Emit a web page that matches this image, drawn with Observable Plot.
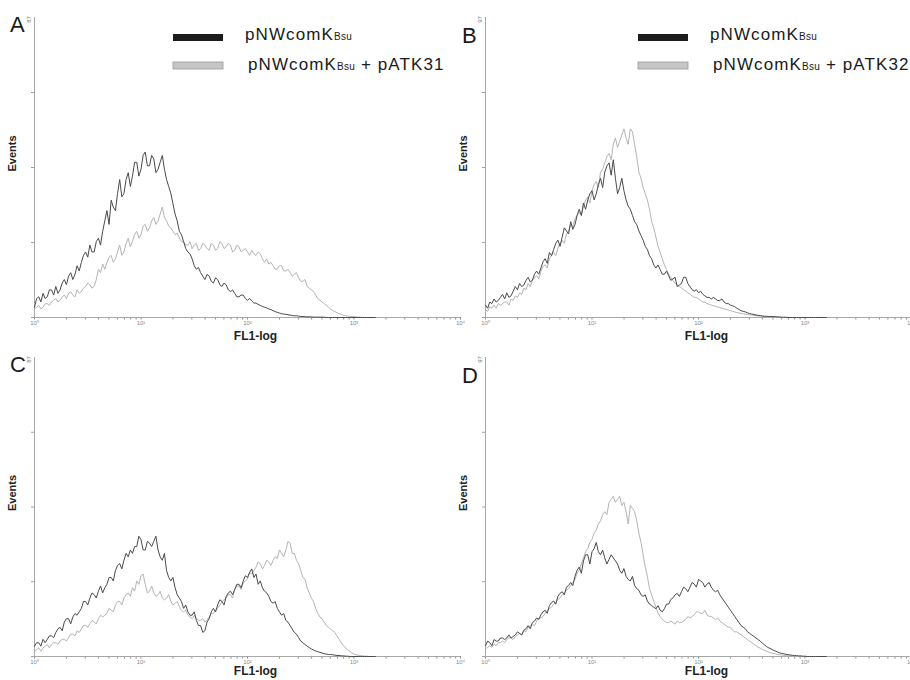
<!DOCTYPE html>
<html><head><meta charset="utf-8">
<script src="https://cdn.jsdelivr.net/npm/d3@7"></script>
<script src="https://cdn.jsdelivr.net/npm/@observablehq/plot@0.6"></script>
<style>
body{margin:0;background:#fff;}
#root{position:relative;width:910px;height:680px;overflow:hidden;font-family:"Liberation Sans",Arial,sans-serif;background:#fff;}
#root > svg{position:absolute;}
</style></head><body><div id="root"></div>
<script>
// channel positions in decades (log10 of FL1), bin width 0.02 decade
const logChannels = d3.range(0, 161).map(i => +(i * 0.02).toFixed(2));
const panelLetters = ["A", "B", "C", "D"];
const panelMax = [87, 97, 87, 97];
const legendBase = "pNWcomK";
const legendSub = "Bsu";
const legendPlasmids = ["pATK31", "pATK32"];
const xMajor = [1, 10, 100, 1000, 10000];
const xTickLabels = ["10\u2070", "10\u00b9", "10\u00b2", "10\u00b3", "10\u2074"];
const xTitle = "FL1-log";
const yTitle = "Events";

// Panel A
const aBlack = [3,5.5,6,4.5,7,5.5,6,8,8,6.5, 9,7,8,10,11,9.5,12,13,11,12.5, 15,13.5,16,18,19,17.5,21,19,19,22,
  23,21,25,28,31,27,34,32,31,36, 40,35,36,40,42,38,41,45,45,41, 43,47,48,44,44,47,46,42,43,45,
  47,43,40,38,36,33,30,28,25,24, 22,20,19,18.5,17,15,14,14.5,13,12, 11,12.5,12,10.5,10,11.5,11,9.5,9,10,
  9.5,8,7.5,8,7,6,6,6.5,6.5,5.5, 5,5.5,4.8,4.2,4.2,3.8,3.5,3.2,3,2.8, 2.5,2.3,2,1.7,1.5,1.3,1.1,1,0.9,0.8,
  0.7,0.6,0.5,0.5,0.4,0.3,0.3,0.2,0.2,0.2, 0.2,0.1,0.1,0.1,0.1,0.1,0.1,0,0,0, 0,0,0,0,0,0,0,0,0,0,
  0,0,0,0,0,0,0,0,0,0, 0];
const aGray = [2.5,3,3.5,2.5,3,4,4,3.5,4.5,5, 5.5,4.5,5,6,6.5,5.5,7,7.5,6.5,6, 8,7,7.5,8.5,9,10,9.5,8.5,9,11,
  14,13,15.5,14,16,17.5,18,16,17,19, 21,18,19,21.5,23,20.5,22,24,25,23, 24,26.5,27,25,26,28,29,27,28,30,
  32,29,28,26.5,26,25,24,24.5,23,22, 22,21,21,22,20,21,21.5,19.5,20,21.5, 21,20,19.5,21.5,21,19.5,20,22,21.5,20,
  20.5,21.5,21,19,19.5,21,20.5,19,19.5,20, 19,18,19.5,18.5,18,19,18.5,17,16,17, 15.5,16,15,14,14,15,15,13.5,13.5,14,
  13,12,12.5,13,11.5,10.5,10.5,11,9,8.5, 8,7.5,6.5,5.5,5,4.5,4,3.5,3,2.5, 2,1.7,1.4,1.1,0.9,0.7,0.5,0.4,0.3,0.3,
  0.2,0.2,0.1,0.1,0,0,0,0,0,0, 0];
// Panel B
const bBlack = [4,3,5,4.5,6,5,5.5,6.5,7.5,6, 8,6.5,7,8.5,10,9,11,10,10.5,12, 13,11.5,12,14,15,14,16,18,19,17.5,
  21,20,22,24,25,23,26,29,28,27, 31,28.5,30,33,35,33,37,35,38,40, 41,38,40,43,45,42,47,49,50,46,
  51,45,40,42,45,41,38,36,35,33, 31,30,28,26.5,25,23,22,20,19,17, 16,17,15.5,14,14,15,13.5,12,12.5,13,
  10,10.5,11,13,13,11,10,9,8.5,9, 8,8.5,7.5,7,6.5,6.5,6,6.5,6,5.5, 5.5,6,5,4.5,4.5,4,3.8,3.5,3,2.6,
  2.2,2,1.8,1.5,1.3,1.1,1,0.8,0.7,0.6, 0.5,0.4,0.4,0.3,0.3,0.3,0.3,0.2,0.2,0.1, 0.1,0.1,0,0,0,0,0,0,0,0,
  0,0,0,0,0,0,0,0,0,0, 0];
const bGray = [2.5,2,3.5,3,4,3,4.5,4,4.5,5, 5,4,6,5.5,7,6.5,8,7.5,9.5,9, 11,10,12,13,13.5,12.5,15,16.5,17,16,
  19,20,21,20,22.5,24,25,24,27,28, 30,29,32,33,34,33,36,38,39,37, 41,43,44,42,47,48,50,52,53,51,
  56,58,55,57,59,61,58,56,61,60, 56,52,47,45,42,40,38,35,31,29, 26,23,21,19,17,15.5,14,13,12,11,
  10.5,10,9.5,9,8.5,8,7.5,7,6.5,6.5, 6,5.5,5,5,4.5,4.3,4,3.8,3.6,3.4, 3.2,3,2.8,2.6,2.4,2.2,2,1.8,1.6,1.5,
  1.3,1.2,1.1,1,0.9,0.8,0.7,0.6,0.5,0.5, 0.4,0.3,0.3,0.2,0.2,0.2,0.1,0.1,0,0, 0,0,0,0,0,0,0,0,0,0,
  0,0,0,0,0,0,0,0,0,0, 0];
// Panel C
const cBlack = [3,4,4,3,5,4,5,6,6,5.5, 7,8,8.5,7.5,10,11,11,9.5,11.5,12.5, 12,13,14,16,16,15,17,18.5,18,17,
  19,20.5,18.5,20,21,23,23,22,25,26.5, 27,25.5,28,30,29,31,30,32,32,35, 34,31,31,33.5,33,32,33.5,35,31,29,
  28,30,25,23,22,23,20,18,17,16, 14,15,13,12,12,13,10.5,9,9,7, 7.5,10,11,13,14,13,15,16.5,16,15,
  17.5,18.5,19,18,19.5,21,21,20,22,23.5, 23,24.5,25.5,23,24,21,22,20,19,18.5, 17.5,16,15.5,16,14,13,12,12.5,10.5,10,
  9,8,7,6.5,5.5,4.5,4,3.5,3,2.6, 2.2,1.9,1.6,1.4,1.2,1,0.8,0.7,0.6,0.6, 0.5,0.4,0.3,0.3,0.2,0.2,0.1,0.1,0,0,
  0,0,0,0,0,0,0,0,0,0, 0];
const cGray = [1.5,2,2.5,1.5,2.5,3,3.5,2.5,3.5,4, 4,3.5,4.5,5,5,4.5,5.5,6.5,6.5,6, 7.5,7,8,9,9,8.5,9.5,10.5,10,9.5,
  11,12,11.5,12,12.5,14,13.5,13,15,16, 16,15,17,18,18.5,17.5,20,19,22,21, 23.5,24,21,18.5,19,20.5,18.5,17.5,18,19,
  17,16.5,17,18,16,15,15.5,16,14.5,13.5, 13,13.5,12,11.5,11,12,11,10.5,10.5,11, 10,10.5,11.5,12.5,12.5,13.5,14,15,16,16.5,
  17,18,18,17,19.5,20.5,20.5,19.5,21.5,22, 22.5,24.5,24,25,26,27.5,27,25.5,26.5,28, 27.5,26.5,28,29,28.5,31,30,29,31,33.5,
  33,30,30,28,27,25,23,22.5,20,18.5, 17,16,14,12.5,11.5,11,10,9,8.5,8, 7.5,7,6,5,4,3.2,2.5,2,1.5,1,
  0.7,0.5,0.4,0.3,0.2,0.1,0.1,0,0,0, 0];
// Panel D
const dBlack = [3.5,5,4.5,3.5,5.5,5,5,6,6,5.5, 6,7,6,6.5,7,8,7.5,7,8.5,9, 10,9,11,11.5,12.5,12,13.5,14.5,15,14,
  16.5,17.5,18,17,19.5,20.5,21,20,22.5,23, 24,23,26,28,29,27,31,33,33,30, 34,35,37,34,33,34.5,32,30,31.5,33,
  32,31,30,28,27,28.5,26,25,24.5,26, 23,22,21.5,20,19.5,20,18,17,16.5,16, 15.5,16.5,15,14.5,15.5,17,17,18.5,19,20,
  20.5,19.5,21,22.5,22,21,22.5,24,23.5,22.5, 25,24.5,24,22.5,23.5,24,22.5,21.5,21,21.5, 20,19,18,17,16,15,14,13,12,11,
  10,9.5,9,8,7.5,7,6.5,6,5.5,5, 4.3,3.8,3.2,2.8,2.5,2.1,1.8,1.5,1.2,1, 0.9,0.7,0.6,0.5,0.4,0.3,0.3,0.2,0.2,0.1,
  0.1,0,0,0,0,0,0,0,0,0, 0];
const dGray = [2.5,3,3.5,3,4,3.5,4.5,4.5,5,4.5, 5.5,6,6,5.5,6.5,7,7.5,7,8.5,8, 9.5,10,10.5,10,11.5,12.5,12.5,13,14,15,
  15.5,16,17,17.5,18.5,19,20,20.5,21.5,22, 23,24,25,27,28,30,32,34,35,37, 38,40,41,43,44,46,47,46,50,51,
  52,50,51,52,49,50,47,43,49,48, 47,44,40,37,33,29,26,22,20,18, 16,14,13,12,11.5,11,11,11.5,11,10.5,
  11.5,11,11,11.5,12,13,12.5,13,13.5,14.5, 14.5,14,14,15,13.5,13,13,12.5,12,12.5, 11.5,11,10.5,10,9.5,9.5,8.5,8,8,7.5,
  7,6.5,6,5.5,5,4.5,4,3.5,3,2.7, 2.3,2,1.7,1.4,1.2,1,0.9,0.7,0.6,0.5, 0.4,0.3,0.2,0.2,0.1,0.1,0,0,0,0,
  0,0,0,0,0,0,0,0,0,0, 0];

const panelSeries = [[aBlack, aGray], [bBlack, bGray], [cBlack, cGray], [dBlack, dGray]];
const xTicks = d3.scaleLog().domain([1, 10000]).ticks();
const fmtX = d => { const k = xMajor.indexOf(d); return k >= 0 ? xTickLabels[k] : ""; };

const root = document.getElementById("root");
const layout = [
  {left: 0, top: 0, height: 350, mb: 33, labelDy: 19},
  {left: 451, top: 0, height: 350, mb: 33, labelDy: 19},
  {left: 0, top: 340, height: 340, mb: 24, labelDy: 15},
  {left: 451, top: 340, height: 340, mb: 24, labelDy: 15}
];

panelSeries.forEach(([blk, gry], idx) => {
  const L = layout[idx];
  const max = panelMax[idx];
  const rows = logChannels.map((e, i) => ({fl: Math.pow(10, e), black: blk[i], gray: gry[i]}));
  const chart = Plot.plot({
    width: 470, height: L.height,
    marginLeft: 34, marginRight: 10, marginTop: 17, marginBottom: L.mb,
    x: {type: "log", domain: [1, 10000]},
    y: {domain: [0, max]},
    style: {background: "transparent", fontFamily: "Liberation Sans, Arial, sans-serif", overflow: "visible"},
    marks: [
      Plot.axisX({ticks: xTicks, tickFormat: fmtX, tickSize: 2.5, tickPadding: 0.5, fontSize: 6, color: "#8a8a8a", label: null}),
      Plot.axisY({ticks: [0, max / 4, max / 2, 3 * max / 4], tickFormat: () => "", tickSize: 3, color: "#a0a0a0", label: null}),
      Plot.ruleY([0], {stroke: "#a8a8a8"}),
      Plot.ruleX([1], {stroke: "#a8a8a8"}),
      Plot.line(rows, {x: "fl", y: "gray", stroke: "#b4b4b4", strokeWidth: 1}),
      Plot.line(rows, {x: "fl", y: "black", stroke: "#4a4a4a", strokeWidth: 1}),
      Plot.text([max], {x: () => 1, y: d => d, text: d => String(d), rotate: -90, dx: -5, dy: 2, fontSize: 6, fill: "#777"}),
      Plot.text([yTitle], {frameAnchor: "left", textAnchor: "middle", lineAnchor: "middle", rotate: -90, dx: -22, dy: -14, fontSize: 11, fontWeight: "bold", fill: "#222"}),
      Plot.text([xTitle], {frameAnchor: "bottom", textAnchor: "middle", lineAnchor: "middle", dx: 8, dy: L.labelDy, fontSize: 12, fontWeight: "bold", fill: "#222"})
    ]
  });
  chart.style.left = L.left + "px";
  chart.style.top = L.top + "px";
  root.appendChild(chart);
});

// Overlay: panel letters and legends
const ov = d3.create("svg").attr("width", 910).attr("height", 680)
  .style("left", "0px").style("top", "0px")
  .style("font-family", "Liberation Sans, Arial, sans-serif");
const letterPos = [[10, 32], [462, 43], [10, 372], [462, 383]];
panelLetters.forEach((t, i) => {
  ov.append("text").attr("x", letterPos[i][0]).attr("y", letterPos[i][1])
    .attr("font-size", 22).attr("fill", "#1a1a1a").text(t);
});
const legendX = [[173, 245], [638, 710]];
legendPlasmids.forEach((p, i) => {
  const [sx, tx] = legendX[i];
  ov.append("rect").attr("x", sx).attr("y", 34).attr("width", 50).attr("height", 7).attr("fill", "#1c1c1c");
  ov.append("rect").attr("x", sx).attr("y", 62).attr("width", 50).attr("height", 7).attr("fill", "#c6c6c6").attr("stroke", "#9a9a9a").attr("stroke-width", 0.8);
  const t1 = ov.append("text").attr("x", tx).attr("y", 40).attr("font-size", 17).attr("letter-spacing", 1.1).attr("fill", "#1a1a1a");
  t1.append("tspan").text(legendBase);
  t1.append("tspan").attr("font-size", 10).attr("letter-spacing", 0.3).text(legendSub);
  const t2 = ov.append("text").attr("x", tx + 3).attr("y", 70).attr("font-size", 17).attr("letter-spacing", 1.1).attr("fill", "#1a1a1a");
  t2.append("tspan").text(legendBase);
  t2.append("tspan").attr("font-size", 10).attr("letter-spacing", 0.3).text(legendSub);
  t2.append("tspan").text(" + " + p);
});
root.appendChild(ov.node());
</script>
</body></html>
